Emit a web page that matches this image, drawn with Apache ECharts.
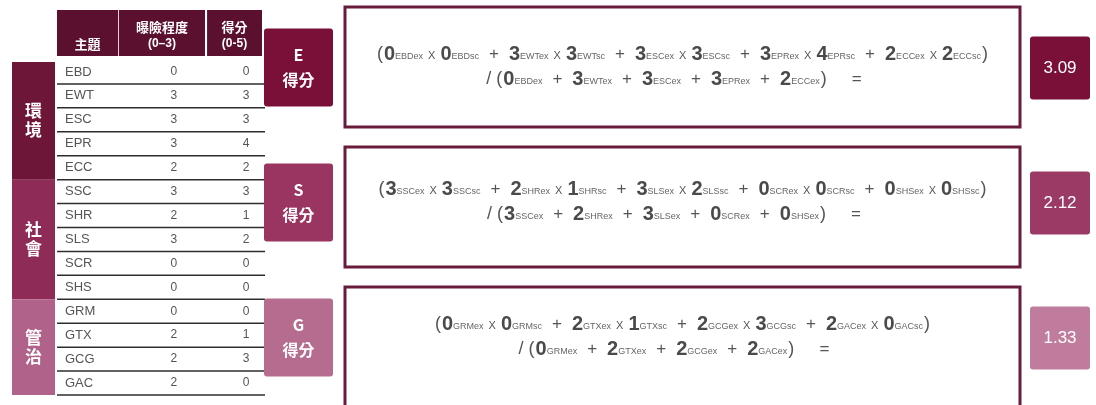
<!DOCTYPE html>
<html>
<head>
<meta charset="utf-8">
<script src="https://cdn.jsdelivr.net/npm/echarts@6/dist/echarts.min.js"></script>
<style>
html, body { margin: 0; padding: 0; background: #fff; }
#main { width: 1096px; height: 405px; }
</style>
</head>
<body>
<div id="main"></div>
<script>
// 主題 / 曝險程度 / 得分
const topics = ['EBD', 'EWT', 'ESC', 'EPR', 'ECC', 'SSC', 'SHR', 'SLS', 'SCR', 'SHS', 'GRM', 'GTX', 'GCG', 'GAC'];
const exposure = [0, 3, 3, 3, 2, 3, 2, 3, 0, 0, 0, 2, 2, 2];
const scores = [0, 3, 3, 4, 2, 3, 1, 2, 0, 0, 0, 1, 3, 0];

const groupNames = ['環境', '社會', '管治'];
const groupFirst = ['EBD', 'SSC', 'GRM'];
const groupLast = ['ECC', 'SHS', 'GAC'];

const pillars = ['E', 'S', 'G'];
const pillarResults = ['3.09', '2.12', '1.33'];

const headerTitles = ['主題', '曝險程度', '得分'];
const headerRanges = ['', '(0–3)', '(0-5)'];

// colours
const headerColor = '#5c1030';
const groupColors = ['#6e1638', '#8e2b56', '#b0628a'];
const pillarColors = ['#7a1038', '#9a3461', '#b56c8f'];
const resultColors = ['#7a1038', '#9b3a64', '#c07c9c'];
const font = '"Liberation Sans", Arial, sans-serif';
const cjk = '"Noto Sans CJK TC", "Noto Sans CJK SC", sans-serif';

const chart = echarts.init(document.getElementById('main'));

// 公式文字
function formulaLines(p) {
    const rows = topics.map((t, i) => i).filter(i => topics[i][0] === p);
    const num = v => '{n|' + v + '}';
    const sub = s => '{s|' + s + '}';
    const top = rows.map(r => num(exposure[r]) + sub(topics[r] + 'ex') + '{x|X}' + num(scores[r]) + sub(topics[r] + 'sc')).join('{o|+}');
    const bottom = rows.map(r => num(exposure[r]) + sub(topics[r] + 'ex')).join('{o|+}');
    return ['{p|(}' + top + '{p|)}', '{p|/ (}' + bottom + '{p|)}{o|   =}'];
}

const rich = {
    n: { fontSize: 20, fontWeight: 'bold', fill: '#4a4a4a', fontFamily: font, verticalAlign: 'bottom' },
    s: { fontSize: 9, fill: '#666', fontFamily: font, verticalAlign: 'bottom', padding: [0, 0, 3, 0] },
    x: { fontSize: 11, fill: '#555', fontFamily: font, verticalAlign: 'bottom', padding: [0, 5, 3, 5] },
    o: { fontSize: 17, fill: '#555', fontFamily: font, verticalAlign: 'middle', padding: [0, 10, 0, 10] },
    p: { fontSize: 18, fill: '#555', fontFamily: font, verticalAlign: 'middle', padding: [0, 1, 0, 1] }
};

function renderRow(params, api) {
    const i = params.dataIndex;
    const cs = params.coordSys;
    const yc = api.coord([0, api.value(1)])[1];
    const h = api.size([0, 1])[1];
    const x0 = cs.x, w = cs.width;
    const children = [
        { type: 'line', shape: { x1: x0, y1: yc + h / 2, x2: x0 + w + 3, y2: yc + h / 2 }, style: { stroke: '#2e2e2e', lineWidth: 1.5 } },
        { type: 'text', style: { text: topics[i], x: x0 + 8, y: yc, align: 'left', verticalAlign: 'middle', fontSize: 13, fill: '#555', fontFamily: font } },
        { type: 'text', style: { text: String(api.value(2)), x: x0 + 0.57 * w, y: yc, align: 'center', verticalAlign: 'middle', fontSize: 12, fill: '#555', fontFamily: font } },
        { type: 'text', style: { text: String(api.value(3)), x: x0 + w - 16, y: yc, align: 'center', verticalAlign: 'middle', fontSize: 12, fill: '#555', fontFamily: font } }
    ];
    if (i === 0) {
        // 表頭
        const top = yc - h / 2 - 50, hh = 46;
        const cols = [[0, 0.298], [0.302, 0.722], [0.732, 1]];
        cols.forEach((c, k) => {
            const cx = x0 + (c[0] + c[1]) / 2 * w;
            children.push({ type: 'rect', shape: { x: x0 + c[0] * w, y: top, width: (c[1] - c[0]) * w, height: hh }, style: { fill: headerColor } });
            children.push({ type: 'text', style: { text: headerTitles[k], x: cx, y: headerRanges[k] ? top + 17 : top + 34, align: 'center', verticalAlign: 'middle', fontSize: 13, fontWeight: 'bold', fill: '#fff', fontFamily: cjk } });
            if (headerRanges[k]) {
                children.push({ type: 'text', style: { text: headerRanges[k], x: cx, y: top + 34, align: 'center', verticalAlign: 'middle', fontSize: 12, fontWeight: 'bold', fill: '#fff', fontFamily: font } });
            }
        });
    }
    return { type: 'group', children: children };
}

function renderGroup(params, api) {
    const i = params.dataIndex;
    const cs = params.coordSys;
    const h = api.size([0, 1])[1];
    const y1 = api.coord([0, api.value(1)])[1] - h / 2;
    const y2 = api.coord([0, api.value(2)])[1] + h / 2;
    const x = cs.x - 45;
    return {
        type: 'group', children: [
            { type: 'rect', shape: { x: x, y: y1 + (i === 0 ? 2 : 0), width: 43, height: y2 - y1 - (i === 0 ? 2 : 0) }, style: { fill: groupColors[i] } },
            { type: 'text', style: { text: groupNames[i].split('').join('\n'), x: x + 21.5, y: (y1 + y2) / 2, align: 'center', verticalAlign: 'middle', fontSize: 17, lineHeight: 19, fontWeight: 'bold', fill: '#fff', fontFamily: cjk } }
        ]
    };
}

// 公式外框
function renderFrame(params, api) {
    const cs = params.coordSys;
    const yc = api.coord([0, api.value(1)])[1];
    return { type: 'rect', shape: { x: cs.x, y: yc - 60, width: cs.width, height: 120 }, style: { fill: '#fff', stroke: '#6a1c3c', lineWidth: 3 } };
}

function renderPillar(params, api) {
    const i = params.dataIndex;
    const cs = params.coordSys;
    const yc = api.coord([0, api.value(1)])[1];
    const x0 = cs.x;
    const lines = formulaLines(pillars[i]);
    const fx = x0 + 81, fw = 675;
    return {
        type: 'group', children: [
            { type: 'rect', shape: { x: x0, y: yc - 39, width: 69, height: 78, r: 3 }, style: { fill: pillarColors[i] } },
            { type: 'text', style: { text: pillars[i] + '\n得分', x: x0 + 34.5, y: yc, align: 'center', verticalAlign: 'middle', fontSize: 16, lineHeight: 25, fontWeight: 'bold', fill: '#fff', fontFamily: cjk } },
            { type: 'text', style: { text: lines[0], rich: rich, x: fx + fw / 2, y: yc - 13, align: 'center', verticalAlign: 'middle' } },
            { type: 'text', style: { text: lines[1], rich: rich, x: fx + fw / 2 - 4, y: yc + 12, align: 'center', verticalAlign: 'middle' } },
            { type: 'rect', shape: { x: x0 + 766, y: yc - 31, width: 60, height: 63, r: 3 }, style: { fill: resultColors[i] } },
            { type: 'text', style: { text: api.value(2), x: x0 + 796, y: yc + 1, align: 'center', verticalAlign: 'middle', fontSize: 17, fill: '#fff', fontFamily: font } }
        ]
    };
}

const option = {
    backgroundColor: '#fff',
    animation: false,
    grid: [
        { left: 57, top: 60, width: 205, height: 335, outerBoundsMode: 'none' },
        { left: 264, top: 0, width: 826, height: 405, outerBoundsMode: 'none' },
        { left: 345, top: -3, width: 675, height: 420, outerBoundsMode: 'none' }
    ],
    xAxis: [
        { gridIndex: 0, type: 'value', min: 0, max: 1, show: false },
        { gridIndex: 1, type: 'value', min: 0, max: 1, show: false },
        { gridIndex: 2, type: 'value', min: 0, max: 1, show: false }
    ],
    yAxis: [
        { gridIndex: 0, type: 'category', data: topics, inverse: true, show: false },
        { gridIndex: 1, type: 'category', data: pillars, inverse: true, show: false },
        { gridIndex: 2, type: 'category', data: pillars, inverse: true, show: false }
    ],
    series: [
        {
            type: 'custom', xAxisIndex: 0, yAxisIndex: 0,
            renderItem: renderGroup,
            encode: { x: 0, y: [1, 2] },
            data: groupNames.map((g, i) => [0, groupFirst[i], groupLast[i]])
        },
        {
            type: 'custom', xAxisIndex: 0, yAxisIndex: 0,
            renderItem: renderRow,
            encode: { x: 0, y: 1 },
            data: topics.map((t, i) => [0, t, exposure[i], scores[i]])
        },
        {
            type: 'custom', xAxisIndex: 2, yAxisIndex: 2,
            renderItem: renderFrame,
            encode: { x: 0, y: 1 },
            data: pillars.map(p => [0, p])
        },
        {
            type: 'custom', xAxisIndex: 1, yAxisIndex: 1,
            renderItem: renderPillar,
            encode: { x: 0, y: 1 },
            data: pillars.map((p, i) => [0, p, pillarResults[i]])
        }
    ]
};
chart.setOption(option);
</script>
</body>
</html>
